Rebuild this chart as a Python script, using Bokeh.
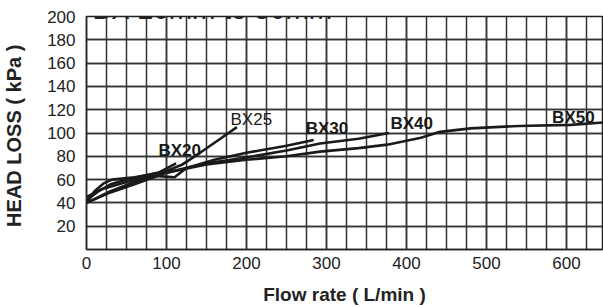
from bokeh.plotting import figure
from bokeh.models import FixedTicker, Label, Range1d
from bokeh.embed import file_html
from bokeh.resources import INLINE

# ---- data ----
bx20_x = [0, 15, 30, 50, 70, 90, 112]
bx20_y = [42, 50, 56, 60, 63, 66, 74]

bx25_x = [0, 10, 22, 32, 60, 95, 120, 142, 165, 188]
bx25_y = [40, 50, 57, 60, 62, 66, 73, 83, 94, 105]

bx30_x = [0, 30, 60, 90, 110, 125, 160, 200, 250, 284]
bx30_y = [40, 50, 58, 63, 62, 70, 77, 83, 89, 94]

bx40_x = [0, 30, 60, 100, 150, 200, 250, 292, 340, 378]
bx40_y = [40, 49, 56, 66, 74, 79, 85, 91, 95, 100]

bx50_x = [0, 20, 50, 100, 150, 200, 250, 292, 340, 376, 418, 442, 480, 540, 605, 646]
bx50_y = [45, 52, 58, 66, 73, 77, 80, 84, 87, 90, 96, 101, 104, 106, 107, 109]

series_names = ["BX20", "BX25", "BX30", "BX40", "BX50"]
label_x = [90, 180, 274, 380, 582]
label_y = [85, 112, 104, 108, 113.5]
label_bold = [True, False, True, True, True]

x_tick_values = [0, 100, 200, 300, 400, 500, 600]
y_tick_values = [20, 40, 60, 80, 100, 120, 140, 160, 180, 200]
x_grid_step = 25
y_grid_step = 20

title_text = "BX 20mm to 50mm"
x_title = "Flow rate ( L/min )"
y_title = "HEAD  LOSS ( kPa )"

W, H = 603, 307
p = figure(width=W, height=H, output_backend="svg", toolbar_location=None,
           x_range=Range1d(0, 645), y_range=Range1d(0, 200),
           min_border_left=86, min_border_right=1, min_border_top=16, min_border_bottom=58)
p.background_fill_color = "white"
p.border_fill_color = "white"
p.outline_line_color = "#222222"
p.outline_line_width = 1.5

p.xaxis.ticker = FixedTicker(ticks=x_tick_values,
                             minor_ticks=list(range(0, 651, x_grid_step)))
p.yaxis.ticker = FixedTicker(ticks=y_tick_values,
                             minor_ticks=list(range(0, 201, y_grid_step)))

for ax in (p.xaxis[0], p.yaxis[0]):
    ax.major_tick_line_color = None
    ax.minor_tick_line_color = None
    ax.axis_line_color = "#222222"
    ax.axis_line_width = 1.5
    ax.major_label_text_font = "Liberation Sans"
    ax.major_label_text_font_size = "17px"
    ax.major_label_text_color = "#222222"
    ax.axis_label_text_font = "Liberation Sans"
    ax.axis_label_text_font_style = "bold"
    ax.axis_label_text_color = "#222222"

p.xaxis.major_label_standoff = 1
p.yaxis.major_label_standoff = 5
p.xaxis.axis_label = x_title
p.yaxis.axis_label = y_title
p.xaxis.axis_label_text_font_size = "19px"
p.yaxis.axis_label_text_font_size = "20px"
p.xaxis.axis_label_standoff = 12
p.yaxis.axis_label_standoff = 19

for g in (p.xgrid[0], p.ygrid[0]):
    g.grid_line_color = "#333333"
    g.grid_line_width = 1.5
    g.minor_grid_line_color = "#333333"
    g.minor_grid_line_width = 1.5

xs = [bx20_x, bx25_x, bx30_x, bx40_x, bx50_x]
ys = [bx20_y, bx25_y, bx30_y, bx40_y, bx50_y]
for sx, sy in zip(xs, ys):
    p.line(sx, sy, line_color="#1a1a1a", line_width=2.6)

for name, lx, ly, b in zip(series_names, label_x, label_y, label_bold):
    p.add_layout(Label(x=lx, y=ly, text=name, text_font="Liberation Sans",
                       text_font_style="bold" if b else "normal",
                       text_font_size="17px", text_color="#1a1a1a",
                       text_baseline="middle", text_align="left"))

# title (its top is cut off in the reference)
p.add_layout(Label(x=7.5, y=206, text=title_text, text_font="Liberation Sans",
                   text_font_size="28px", text_color="#222222",
                   text_baseline="alphabetic", text_align="left"))

open("out.html", "w").write(file_html(p, INLINE))
